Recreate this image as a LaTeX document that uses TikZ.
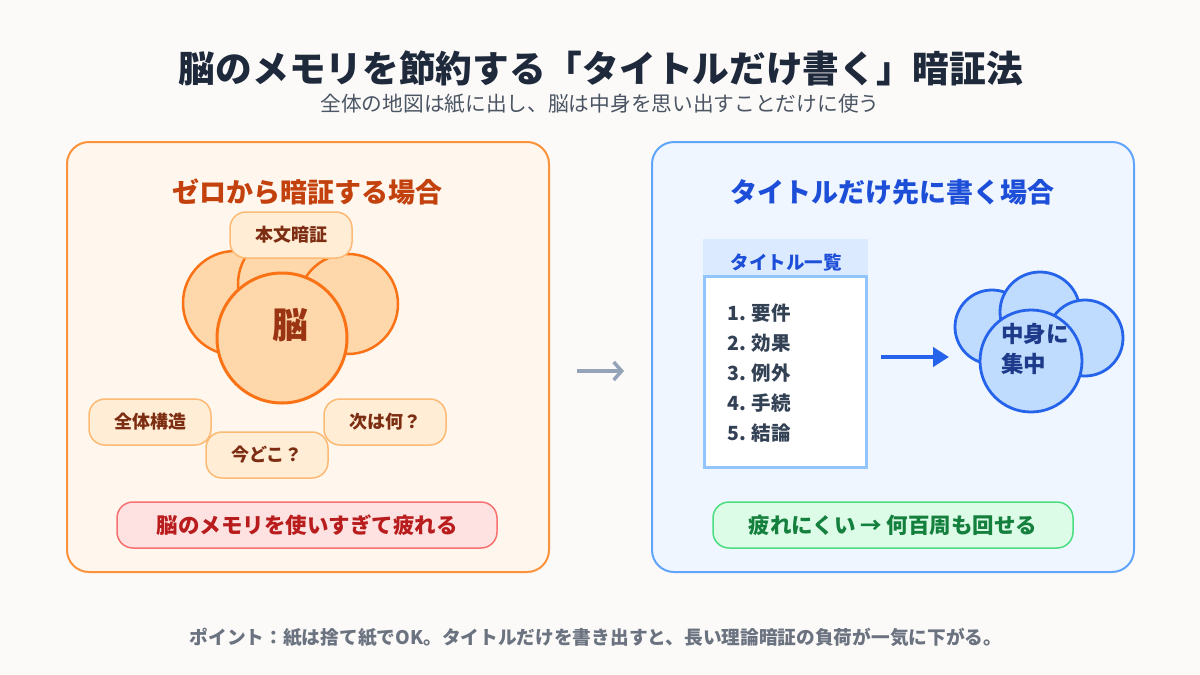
\documentclass[tikz,border=0pt]{standalone}
\usepackage{fontspec}
\setmainfont{Noto Sans CJK JP}
\usetikzlibrary{arrows.meta}
\definecolor{bgc}{HTML}{FBFAF8}
\definecolor{titlec}{HTML}{1E293B}
\definecolor{subc}{HTML}{4B5563}
\definecolor{notec}{HTML}{6B7280}
\definecolor{lpfill}{HTML}{FFF7ED}
\definecolor{lpdraw}{HTML}{FB923C}
\definecolor{lptitle}{HTML}{C2410C}
\definecolor{cfill}{HTML}{FED7AA}
\definecolor{cdraw}{HTML}{F97316}
\definecolor{braintext}{HTML}{9A3412}
\definecolor{bubfill}{HTML}{FFEDD5}
\definecolor{bubdraw}{HTML}{FDBA74}
\definecolor{bubtext}{HTML}{7C2D12}
\definecolor{redfill}{HTML}{FEE2E2}
\definecolor{reddraw}{HTML}{F87171}
\definecolor{redtext}{HTML}{B91C1C}
\definecolor{rpfill}{HTML}{EFF6FF}
\definecolor{rpdraw}{HTML}{60A5FA}
\definecolor{rptitle}{HTML}{1D4ED8}
\definecolor{hdrfill}{HTML}{DBEAFE}
\definecolor{listdraw}{HTML}{93C5FD}
\definecolor{listtext}{HTML}{334155}
\definecolor{bcfill}{HTML}{BFDBFE}
\definecolor{bcdraw}{HTML}{2563EB}
\definecolor{bctext}{HTML}{1E3A8A}
\definecolor{grnfill}{HTML}{DCFCE7}
\definecolor{grndraw}{HTML}{4ADE80}
\definecolor{grntext}{HTML}{15803D}
\definecolor{midarrow}{HTML}{94A3B8}
\tikzset{
  panel/.style={rounded corners=22pt, line width=2pt, inner sep=0pt},
  bubble/.style={rectangle, rounded corners=16pt, fill=bubfill, draw=bubdraw, line width=1.5pt,
    minimum width=122pt, minimum height=46pt, inner sep=0pt, text=bubtext,
    font=\fontsize{18}{21}\selectfont\bfseries},
  lcirc/.style={circle, fill=cfill, draw=cdraw, line width=2.5pt, inner sep=0pt},
  rcirc/.style={circle, fill=bcfill, draw=bcdraw, line width=2.8pt, inner sep=0pt},
  msgbox/.style={rectangle, rounded corners=16pt, line width=1.5pt, minimum height=46pt,
    inner sep=0pt, font=\fontsize{21.5}{25}\selectfont\bfseries},
  listitem/.style={anchor=west, inner sep=0pt, text=listtext, font=\fontsize{19.5}{22}\selectfont\bfseries},
}
\begin{document}
\begin{tikzpicture}[x=1pt, y=-1pt]
\fill[bgc] (0,0) rectangle (1200,675);
\useasboundingbox (0,0) rectangle (1200,675);
% titles
\node[text=titlec, font=\fontsize{36.7}{40}\selectfont\bfseries, inner sep=0pt] (title) at (601,68)
  {脳のメモリを節約する「タイトルだけ書く」暗証法};
\node[text=subc, font=\fontsize{20.7}{24}\selectfont, inner sep=0pt] (sub) at (600,104)
  {全体の地図は紙に出し、脳は中身を思い出すことだけに使う};
% panels
\node[panel, fill=lpfill, draw=lpdraw, minimum width=482pt, minimum height=430pt] (lp) at (308,357) {};
\node[panel, fill=rpfill, draw=rpdraw, minimum width=482pt, minimum height=430pt] (rp) at (893,357) {};
\node[text=lptitle, font=\fontsize{27}{30}\selectfont\bfseries, inner sep=0pt] (lt) at (307,192) {ゼロから暗証する場合};
\node[text=rptitle, font=\fontsize{27}{30}\selectfont\bfseries, inner sep=0pt] (rt) at (892,192) {タイトルだけ先に書く場合};
% left brain
\node[lcirc, minimum size=104pt] (cl) at (235,303) {};
\node[lcirc, minimum size=104pt] (ct) at (290,284) {};
\node[lcirc, minimum size=100pt] (cr) at (348,304) {};
\node[lcirc, line width=3pt, minimum size=130pt] (cm) at (282,338) {};
\node[text=braintext, font=\fontsize{36}{40}\selectfont\bfseries, inner sep=0pt] (brain) at (290,325) {脳};
% bubbles
\node[bubble] (b1) at (291,235) {本文暗証};
\node[bubble] (b2) at (267,455) {今どこ？};
\node[bubble] (b3) at (150,422) {全体構造};
\node[bubble] (b4) at (385,422) {次は何？};
% left message
\node[msgbox, fill=redfill, draw=reddraw, text=redtext, minimum width=380pt] (lmsg) at (307,525)
  {脳のメモリを使いすぎて疲れる};
% middle arrow
\coordinate (ma) at (577,371);
\coordinate (mb) at (624,371);
\draw[midarrow, line width=3.5pt, -{Straight Barb[length=8pt, width=18pt, line width=3.5pt]}] (ma) -- (mb);
% list
\node[fill=hdrfill, minimum width=165pt, minimum height=36pt, inner sep=0pt] (lh) at (785.5,257) {};
\node[fill=white, draw=listdraw, line width=3pt, minimum width=162pt, minimum height=191pt, inner sep=0pt] (lb) at (785.5,372) {};
\node[text=rptitle, font=\fontsize{18.5}{22}\selectfont\bfseries, inner sep=0pt] (lht) at (786,262) {タイトル一覧};
\node[listitem] (i1) at (727,313) {1. 要件};
\node[listitem] (i2) at (727,343) {2. 効果};
\node[listitem] (i3) at (727,373) {3. 例外};
\node[listitem] (i4) at (727,403) {4. 手続};
\node[listitem] (i5) at (727,433) {5. 結論};
% blue arrow
\coordinate (ba) at (881,357);
\coordinate (bb) at (949,357);
\draw[bcdraw, line width=4pt, -{Triangle[length=16pt, width=19pt]}] (ba) -- (bb);
% right brain
\node[rcirc, minimum size=74pt] (dl) at (992,327) {};
\node[rcirc, minimum size=80pt] (dt) at (1040,312) {};
\node[rcirc, minimum size=76pt] (dr) at (1085,338) {};
\node[rcirc, minimum size=102pt] (dm) at (1031,361) {};
\node[text=bctext, font=\fontsize{22.5}{30}\selectfont\bfseries, align=left, anchor=west, inner sep=0pt] (focus) at (1001,349) {中身に\\集中};
% right message
\node[msgbox, fill=grnfill, draw=grndraw, text=grntext, minimum width=360pt] (rmsg) at (893,525)
  {疲れにくい → 何百周も回せる};
% note
\node[text=notec, font=\fontsize{18.7}{22}\selectfont\bfseries, inner sep=0pt] (note) at (596,637)
  {ポイント：紙は捨て紙でOK。タイトルだけを書き出すと、長い理論暗証の負荷が一気に下がる。};
\end{tikzpicture}
\end{document}
